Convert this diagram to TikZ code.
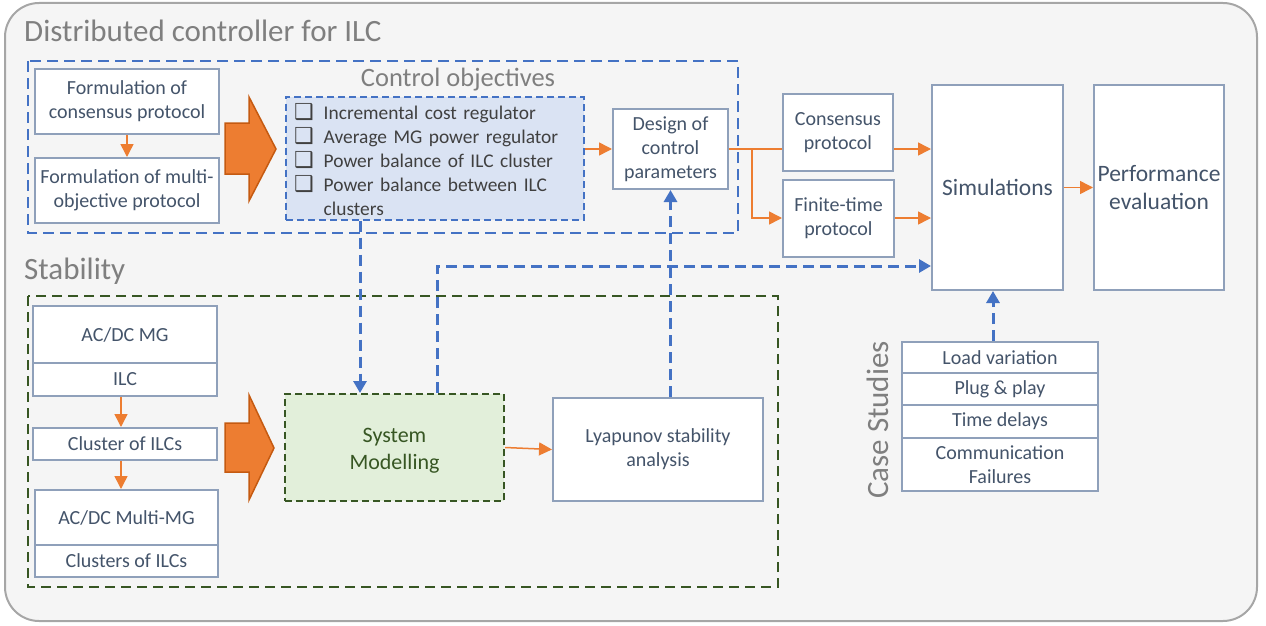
\documentclass[tikz,border=0pt]{standalone}
\usepackage{fontspec}
\setmainfont{Carlito}
\newfontfamily\symfont{DejaVu Sans}
\usetikzlibrary{arrows.meta,calc}

\definecolor{bgfill}{HTML}{F5F5F5}
\definecolor{bgline}{HTML}{A6A6A6}
\definecolor{headgray}{HTML}{7F7F7F}
\definecolor{boxline}{HTML}{8FA0BA}
\definecolor{boxtext}{HTML}{44546A}
\definecolor{listtext}{HTML}{404040}
\definecolor{ctrlblue}{HTML}{4472C4}
\definecolor{objfill}{HTML}{DAE3F3}
\definecolor{stabgreen}{HTML}{375623}
\definecolor{modfill}{HTML}{E2EFDA}
\definecolor{flow}{HTML}{ED7D31}
\definecolor{flowdark}{HTML}{C55A11}

\newcommand{\bodyfont}{\fontsize{20}{24}\selectfont}
\newcommand{\listfont}{\fontsize{19.4}{24}\selectfont}
\newcommand{\headfont}{\fontsize{31}{36}\selectfont}
\newcommand{\chk}{{\symfont\fontsize{22}{24}\selectfont ❑}}

\begin{document}
\begin{tikzpicture}[x=1pt,y=-1pt,
  box/.style={draw=boxline, line width=2pt, fill=white, text=boxtext,
    align=center, inner sep=2pt, font=\bodyfont},
  bigbox/.style={box, font=\fontsize{23.5}{28}\selectfont},
  objbox/.style={draw=ctrlblue, line width=2pt, dash pattern=on 7pt off 4pt,
    fill=objfill, text=listtext, align=left, inner xsep=8pt, inner ysep=0pt,
    text width=282pt, font=\listfont},
  modbox/.style={draw=stabgreen, line width=2pt, dash pattern=on 7pt off 4pt,
    fill=modfill, text=stabgreen, align=center,
    font=\fontsize{22}{27}\selectfont},
  head/.style={text=headgray, inner sep=0pt, font=\headfont},
  ctrlframe/.style={draw=ctrlblue, line width=2.5pt, dash pattern=on 11pt off 6pt},
  stabframe/.style={draw=stabgreen, line width=2pt, dash pattern=on 10pt off 6pt},
  flowarrow/.style={draw=flow, line width=1.5pt,
    -{Triangle[length=13pt,width=13pt]}},
  flowline/.style={draw=flow, line width=1.5pt},
  ctrlarrow/.style={draw=ctrlblue, line width=3pt, dash pattern=on 11pt off 6pt,
    -{Triangle[length=12pt,width=13pt]}},
  bigarrow/.style={fill=flow, draw=flowdark, line width=1.5pt, line join=miter}
]
\useasboundingbox (0,0) rectangle (1266,626);

% outer panel
\draw[fill=bgfill, draw=bgline, line width=2pt, rounded corners=34pt]
  (5,3) rectangle (1257,621);

% section headings
\node[head, anchor=base west] (title) at (24,42) {Distributed controller for ILC};
\node[head, anchor=base west] (stab) at (24,279) {Stability};
\node[head, rotate=90] (cases) at (878,420) {Case Studies};

% dashed group frames
\draw[ctrlframe] (28,61) rectangle (738,233);
\draw[stabframe] (28,296) rectangle (778,587);
\node[text=headgray, font=\fontsize{26.5}{30}\selectfont, inner sep=0pt,
  anchor=base] (objtitle) at (458,86) {Control objectives};

% controller design
\node[box, minimum width=184pt, minimum height=64pt] (fcp) at (127,101.5)
  {Formulation of\\consensus protocol};
\node[box, minimum width=184pt, minimum height=65pt] (fmo) at (127,190.5)
  {Formulation of multi-\\objective protocol};
\node[objbox, minimum height=123pt] (cobj) at (435,158)
  {\raisebox{-5pt}[\height][\depth]{%
   \begin{tabular}{@{}l@{\hspace{10pt}}l@{}}
   \chk & Incremental cost regulator\\
   \chk & Average MG power regulator\\
   \chk & Power balance of ILC cluster\\
   \chk & Power balance between ILC\\
        & clusters
   \end{tabular}}};
\node[box, minimum width=115pt, minimum height=80pt] (design) at (670.5,149)
  {Design of\\control\\parameters};
\node[box, minimum width=110pt, minimum height=77pt] (cons) at (838,132.5)
  {Consensus\\protocol};
\node[box, minimum width=111pt, minimum height=77pt] (fin) at (838.5,218)
  {Finite-time\\protocol};
\node[bigbox, minimum width=131pt, minimum height=205pt] (sim) at (997.5,187.5)
  {Simulations};
\node[bigbox, minimum width=130pt, minimum height=205pt] (perf) at (1159,187.5)
  {Performance\\evaluation};

% stability analysis
\node[box, minimum width=184pt, minimum height=57pt] (mg) at (125,334.5) {AC/DC MG};
\node[box, minimum width=184pt, minimum height=33pt] (ilc) at (125,379.5) {ILC};
\node[box, minimum width=184pt, minimum height=32pt] (clu) at (125,444) {Cluster of ILCs};
\node[box, minimum width=183pt, minimum height=55pt] (mmg) at (126.5,517.5) {AC/DC Multi-MG};
\node[box, minimum width=183pt, minimum height=32pt] (clus) at (126.5,561) {Clusters of ILCs};
\node[modbox, minimum width=219pt, minimum height=107pt] (sysm) at (394.5,447.5)
  {\raisebox{-3pt}[\height][\depth]{\begin{tabular}{@{}c@{}}System\\Modelling\end{tabular}}};
\node[box, minimum width=210pt, minimum height=103pt] (lya) at (658,449.5)
  {Lyapunov stability\\analysis};

% case studies
\node[box, minimum width=196pt, minimum height=31pt] (cs1) at (1000,357.5) {Load variation};
\node[box, minimum width=196pt, minimum height=32pt] (cs2) at (1000,389) {Plug \& play};
\node[box, minimum width=196pt, minimum height=33pt] (cs3) at (1000,421.5) {Time delays};
\node[box, minimum width=196pt, minimum height=53pt] (cs4) at (1000,464.5)
  {Communication\\Failures};

% block arrows
\draw[bigarrow] (225,123) -- (249,123) -- (249,97) -- (276,149) -- (249,201)
  -- (249,174) -- (225,174) -- cycle;
\draw[bigarrow] (225,423) -- (249,423) -- (249,395) -- (274,448) -- (249,500)
  -- (249,472) -- (225,472) -- cycle;

% orange flow connectors
\draw[flowarrow] (fcp.south) -- (fmo.north);
\draw[flowarrow] (cobj.east |- design.west) -- (design.west);
\draw[flowline] (design.east) -- (design.east -| cons.west);
\coordinate (br) at (752,149);
\draw[flowarrow] (br) |- (fin.west);
\draw[flowarrow] (cons.east |- design.east) -- (sim.west |- design.east);
\draw[flowarrow] (fin.east) -- (fin.east -| sim.west);
\draw[flowarrow] (sim.east) -- (perf.west);
\coordinate (cx) at (121,0);
\draw[flowarrow] (ilc.south -| cx) -- (clu.north -| cx);
\draw[flowarrow] (clu.south -| cx) -- (mmg.north -| cx);
\draw[flowarrow] (sysm.east) -- (lya.west);

% blue feedback connectors
\coordinate (c1) at (360,0);
\draw[ctrlarrow] (cobj.south -| c1) -- (sysm.north -| c1);
\coordinate (c2) at (437,266);
\draw[ctrlarrow] (sysm.north -| c2) -- (c2) -- (c2 -| sim.west);
\draw[ctrlarrow] (lya.north -| design.south) -- (design.south);
\coordinate (c3) at (993,0);
\draw[ctrlarrow] (cs1.north -| c3) -- (sim.south -| c3);
\end{tikzpicture}
\end{document}
